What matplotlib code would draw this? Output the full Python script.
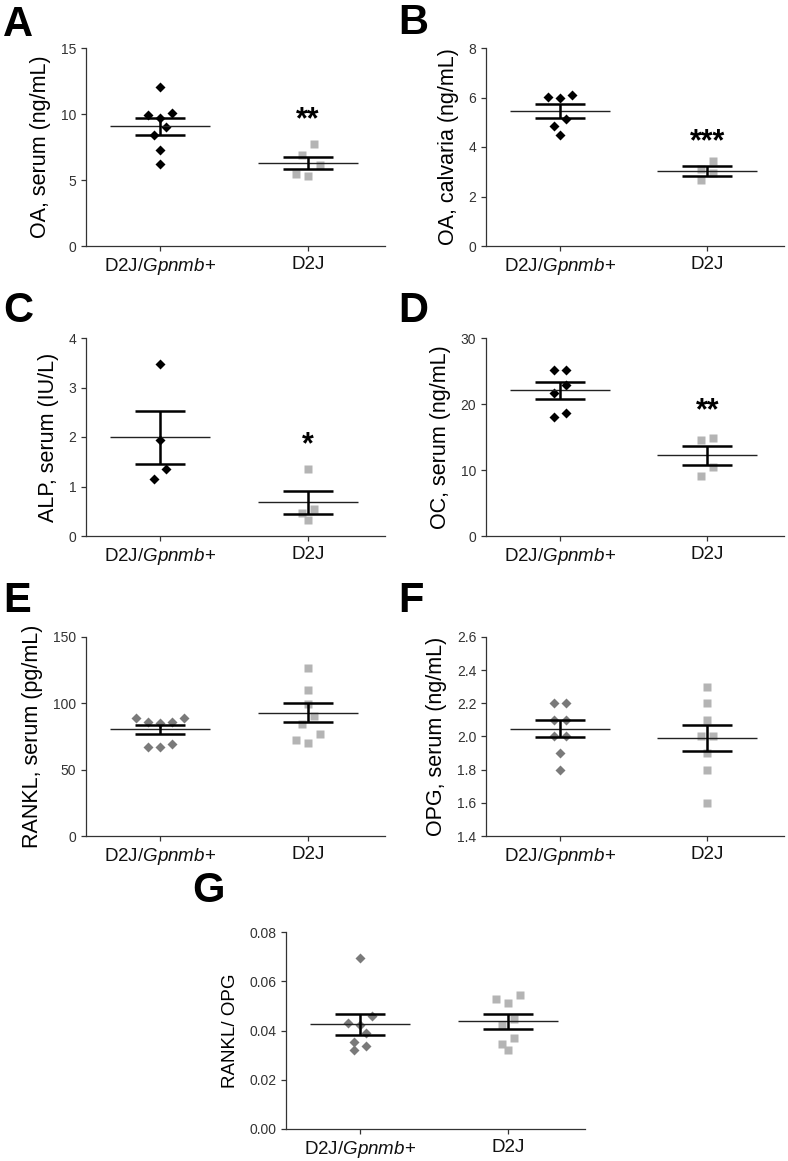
import numpy as np
import matplotlib
matplotlib.use("Agg")
import matplotlib.pyplot as plt

plt.rcParams['font.family'] = ['Liberation Sans', 'DejaVu Sans']
plt.rcParams['mathtext.fontset'] = 'custom'
plt.rcParams['mathtext.it'] = 'Liberation Sans:italic'
plt.rcParams['mathtext.rm'] = 'Liberation Sans'

groups = ["D2J/$\\it{Gpnmb}$+", "D2J"]
panel_letters = ["A", "B", "C", "D", "E", "F", "G"]
ylabels = ["OA, serum (ng/mL)", "OA, calvaria (ng/mL)", "ALP, serum (IU/L)",
           "OC, serum (ng/mL)", "RANKL, serum (pg/mL)", "OPG, serum (ng/mL)",
           "RANKL/ OPG"]

# values, one list per group
oa_serum_wt = [12.05, 10.08, 9.96, 9.73, 9.02, 8.39, 7.31, 6.25]
oa_serum_ko = [7.7, 6.9, 6.1, 5.45, 5.3]
oa_calv_wt = [6.12, 6.02, 5.99, 5.15, 4.84, 4.48]
oa_calv_ko = [3.45, 3.1, 2.95, 2.65]
alp_wt = [3.47, 1.93, 1.35, 1.16]
alp_ko = [1.35, 0.55, 0.46, 0.32]
oc_wt = [25.2, 25.2, 22.9, 21.6, 18.6, 18.1]
oc_ko = [14.9, 14.6, 10.4, 9.1]
rankl_wt = [89, 89, 86, 86, 85.3, 69, 67.2, 67.2]
rankl_ko = [127, 110, 99.8, 90.3, 84.3, 77.2, 72.7, 70.2]
opg_wt = [2.2, 2.2, 2.1, 2.1, 2.0, 2.0, 1.9, 1.8]
opg_ko = [2.3, 2.2, 2.1, 2.0, 2.0, 1.9, 1.8, 1.6]
ratio_wt = [0.0696, 0.0460, 0.0429, 0.0422, 0.0391, 0.0352, 0.0337, 0.0321]
ratio_ko = [0.0545, 0.0526, 0.0513, 0.0447, 0.0422, 0.0371, 0.0345, 0.0321]

# mean and SEM as drawn in the figure
means = [[9.07, 6.30], [5.44, 3.04], [1.99, 0.68], [22.1, 12.26],
         [80.5, 93.0], [2.046, 1.99], [0.0426, 0.0438]]
sems = [[0.65, 0.47], [0.28, 0.20], [0.53, 0.23], [1.3, 1.43],
        [3.4, 7.0], [0.052, 0.078], [0.0043, 0.0031]]

yticks = [[0, 5, 10, 15], [0, 2, 4, 6, 8], [0, 1, 2, 3, 4], [0, 10, 20, 30],
          [0, 50, 100, 150], [1.4, 1.6, 1.8, 2.0, 2.2, 2.4, 2.6],
          [0.00, 0.02, 0.04, 0.06, 0.08]]
ytick_fmt = ["{:.0f}", "{:.0f}", "{:.0f}", "{:.0f}", "{:.0f}", "{:.1f}", "{:.2f}"]
stars = ["**", "***", "*", "**", "", "", ""]
star_y = [9.5, 4.2, 1.83, 18.9, 0, 0, 0]

data = [(oa_serum_wt, oa_serum_ko), (oa_calv_wt, oa_calv_ko), (alp_wt, alp_ko),
        (oc_wt, oc_ko), (rankl_wt, rankl_ko), (opg_wt, opg_ko),
        (ratio_wt, ratio_ko)]

W, H = 788, 1161
# axes boxes in pixels: left, top, right, bottom
boxes = [(86, 48, 385, 246), (486, 48, 784, 246),
         (86, 338, 385, 536), (486, 338, 784, 536),
         (86, 637, 385, 836), (486, 637, 784, 836),
         (286, 932, 585, 1129)]
letter_pos = [(3, 5), (398, 3), (3, 291), (398, 291), (3, 581), (398, 581), (192, 871)]


def swarm_offsets(ax, x0, vals, row_px=11, step_px=12):
    # prism-like rows: points close in y are spread side by side
    vals = np.asarray(vals, float)
    ypx = ax.transData.transform(np.c_[np.zeros(len(vals)), vals])[:, 1]
    xpx_per_unit = ax.transData.transform([[1, 0]])[0, 0] - ax.transData.transform([[0, 0]])[0, 0]
    order = np.argsort(-vals)
    off = np.zeros(len(vals))
    i = 0
    while i < len(order):
        row = [order[i]]
        j = i + 1
        while j < len(order) and ypx[order[i]] - ypx[order[j]] < row_px:
            row.append(order[j])
            j += 1
        row = sorted(row, key=lambda k: vals[k])
        n = len(row)
        if n % 2:
            slots = [0] + [s for m in range(1, n) for s in (-m, m)]
        else:
            slots = [s for m in range(n) for s in (-(m + 0.5), m + 0.5)]
        for k, s in zip(row, slots[:n]):
            off[k] = s * step_px / xpx_per_unit
        i = j
    return x0 + off


fig = plt.figure(figsize=(W / 100, H / 100), dpi=100)

for p in range(7):
    l, t, r, b = boxes[p]
    ax = fig.add_axes([l / W, 1 - b / H, (r - l) / W, (b - t) / H])
    ax.set_xlim(-0.5, 1.52)
    ax.set_ylim(yticks[p][0], yticks[p][-1])
    for s in ["top", "right"]:
        ax.spines[s].set_visible(False)
    for s in ["left", "bottom"]:
        ax.spines[s].set_color("#333333")
        ax.spines[s].set_linewidth(0.9)
    ax.tick_params(colors="#333333", width=0.9, length=3.5)

    wt, ko = data[p]
    c_wt = "black" if p < 4 else "#7a7a7a"
    xs = swarm_offsets(ax, 0, wt)
    ax.plot(xs, wt, "D", ms=5, color=c_wt, mec="none", zorder=2)
    xs = swarm_offsets(ax, 1, ko)
    ax.plot(xs, ko, "s", ms=6.2, color="#b4b4b4", mec="none", zorder=2)

    for g in range(2):
        ax.hlines(means[p][g], g - 0.34, g + 0.34, color="#222222", lw=1.0, zorder=3)
        ax.errorbar(g, means[p][g], yerr=sems[p][g], fmt="none", ecolor="black",
                    elinewidth=1.8, capsize=18, capthick=1.8, zorder=4)

    if stars[p]:
        ax.text(1, star_y[p], stars[p], ha="center", va="center",
                fontsize=22, fontweight="bold")

    ax.set_xticks([0, 1])
    ax.set_xticklabels(groups, fontsize=13.5, color="#111111")
    ax.set_yticks(yticks[p])
    ax.set_yticklabels([ytick_fmt[p].format(v) for v in yticks[p]], fontsize=10,
                       color="#333333")
    ax.set_ylabel(ylabels[p], fontsize=15.5 if p < 6 else 13.5, labelpad=7)

    lx, ly = letter_pos[p]
    fig.text(lx / W, 1 - ly / H, panel_letters[p], fontsize=30, fontweight="bold",
             ha="left", va="top")

fig.savefig("out.png", dpi=100)
